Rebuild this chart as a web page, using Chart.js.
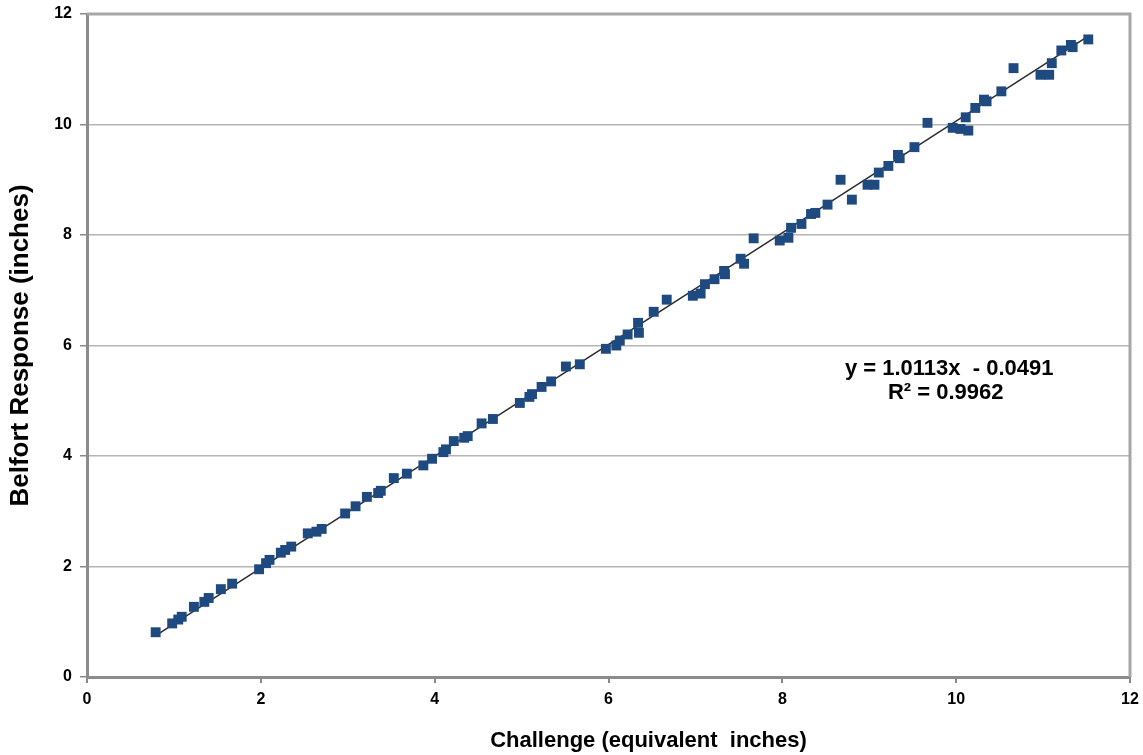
<!DOCTYPE html>
<html>
<head>
<meta charset="utf-8">
<script src="https://cdn.jsdelivr.net/npm/chart.js@4/dist/chart.umd.min.js"></script>
<style>
  html, body { margin: 0; padding: 0; background: #fff; }
  #wrap { width: 1143px; height: 755px; }
</style>
</head>
<body>
<div id="wrap"><canvas id="belfortChart"></canvas></div>
<script>
const challenge = [0.79, 0.98, 1.05, 1.09, 1.23, 1.35, 1.40, 1.54, 1.67, 1.98, 2.06, 2.10, 2.23, 2.28, 2.35,
  2.54, 2.64, 2.70, 2.97, 3.09, 3.22, 3.35, 3.38, 3.53, 3.68, 3.87, 3.97, 4.10, 4.13, 4.22, 4.34, 4.38,
  4.54, 4.67, 4.98, 5.09, 5.12, 5.23, 5.34, 5.51, 5.67, 5.97, 6.09, 6.13, 6.22, 6.34, 6.35, 6.52, 6.67,
  6.97, 7.06, 7.11, 7.22, 7.33, 7.34, 7.52, 7.56, 7.67, 7.97, 8.07, 8.10, 8.22, 8.33, 8.38, 8.52, 8.67,
  8.80, 8.98, 9.06, 9.11, 9.22, 9.33, 9.35, 9.52, 9.67, 9.96, 10.05, 10.11, 10.14, 10.22, 10.32, 10.35,
  10.52, 10.66, 10.97, 11.07, 11.10, 11.21, 11.32, 11.34, 11.52];
const response = [0.81, 0.97, 1.04, 1.09, 1.27, 1.36, 1.43, 1.59, 1.69, 1.95, 2.06, 2.12, 2.25, 2.30, 2.36,
  2.60, 2.63, 2.68, 2.96, 3.09, 3.26, 3.33, 3.37, 3.60, 3.68, 3.83, 3.95, 4.07, 4.12, 4.27, 4.33, 4.36,
  4.59, 4.67, 4.96, 5.07, 5.12, 5.25, 5.35, 5.62, 5.66, 5.94, 6.00, 6.09, 6.20, 6.41, 6.23, 6.61, 6.83,
  6.90, 6.94, 7.11, 7.20, 7.35, 7.29, 7.57, 7.48, 7.94, 7.90, 7.95, 8.13, 8.20, 8.38, 8.40, 8.55, 9.00,
  8.64, 8.91, 8.91, 9.13, 9.25, 9.45, 9.39, 9.59, 10.03, 9.94, 9.92, 10.13, 9.89, 10.30, 10.45, 10.42,
  10.60, 11.02, 10.90, 10.90, 11.11, 11.34, 11.44, 11.40, 11.54];

// linear trendline as given on the chart
const trendSlope = 1.0113;
const trendIntercept = -0.0491;
const trendLabel = ['y = 1.0113x  - 0.0491', 'R\u00b2 = 0.9962'];

const axisTicks = [0, 2, 4, 6, 8, 10, 12];
const xTitle = 'Challenge (equivalent  inches)';
const yTitle = 'Belfort Response (inches)';

const points = challenge.map((x, i) => ({ x: x, y: response[i] }));
const xMin = Math.min(...challenge);
const xMax = Math.max(...challenge);
const trend = [xMin, xMax].map(x => ({ x: x, y: trendSlope * x + trendIntercept }));

const FONT = "'Liberation Sans', Arial, sans-serif";

// frame on top/right, x title (sits right of centre) and the equation text
const framePlugin = {
  id: 'frame',
  afterDraw(chart) {
    const { ctx, chartArea: a, scales } = chart;
    ctx.save();
    ctx.strokeStyle = '#a6a6a6';
    ctx.lineWidth = 3;
    ctx.beginPath();
    ctx.moveTo(a.left, a.top);
    ctx.lineTo(a.right, a.top);
    ctx.lineTo(a.right, a.bottom);
    ctx.stroke();

    ctx.fillStyle = '#000';
    ctx.textAlign = 'center';
    ctx.textBaseline = 'middle';
    ctx.font = 'bold 22px ' + FONT;
    ctx.fillText(trendLabel[0], scales.x.getPixelForValue(9.92), scales.y.getPixelForValue(5.57));
    ctx.fillText(trendLabel[1], scales.x.getPixelForValue(9.88), scales.y.getPixelForValue(5.14));

    ctx.fillText(xTitle, scales.x.getPixelForValue(6.46), scales.x.bottom - 14);
    ctx.restore();
  }
};

new Chart(document.getElementById('belfortChart'), {
  type: 'scatter',
  data: {
    datasets: [
      {
        label: 'Belfort',
        data: points,
        pointStyle: 'rect',
        pointRadius: 7,
        pointHoverRadius: 7,
        backgroundColor: '#1f4a80',
        borderColor: '#1f4a80',
        borderWidth: 0
      },
      {
        label: 'Linear',
        type: 'line',
        data: trend,
        borderColor: '#2b2b2b',
        borderWidth: 1.5,
        pointRadius: 0,
        fill: false
      }
    ]
  },
  options: {
    responsive: true,
    maintainAspectRatio: false,
    animation: false,
    layout: { padding: { left: 0, right: 13, top: 14, bottom: 0 } },
    plugins: {
      legend: { display: false },
      tooltip: { enabled: false }
    },
    scales: {
      x: {
        type: 'linear',
        min: 0,
        max: 12,
        afterBuildTicks(scale) { scale.ticks = axisTicks.map(v => ({ value: v })); },
        afterFit(scale) {
          scale.height = 78;
          scale.paddingLeft = 0;
          scale.paddingRight = 0;
        },
        ticks: { color: '#000', font: { family: FONT, size: 16, weight: 'bold' }, padding: 7 },
        grid: { drawOnChartArea: false, drawTicks: true, tickLength: 6, color: '#888', lineWidth: 2 },
        border: { display: true, color: '#8c8c8c', width: 3 }
      },
      y: {
        type: 'linear',
        min: 0,
        max: 12,
        afterBuildTicks(scale) { scale.ticks = axisTicks.map(v => ({ value: v })); },
        afterFit(scale) {
          scale.width = 87;
          scale.paddingTop = 0;
          scale.paddingBottom = 0;
        },
        ticks: { color: '#000', font: { family: FONT, size: 16, weight: 'bold' }, padding: 8 },
        grid: {
          color: ctx => (ctx.tick && (ctx.tick.value === 0 || ctx.tick.value === 12)) ? 'rgba(0,0,0,0)' : '#b5b5b5',
          lineWidth: 1.5,
          drawTicks: true,
          tickLength: 7,
          tickColor: '#888'
        },
        border: { display: true, color: '#8c8c8c', width: 3 },
        title: {
          display: true,
          text: yTitle,
          color: '#000',
          font: { family: FONT, size: 26, weight: 'bold' },
          padding: { top: 5, bottom: 0 }
        }
      }
    }
  },
  plugins: [framePlugin]
});
</script>
</body>
</html>
